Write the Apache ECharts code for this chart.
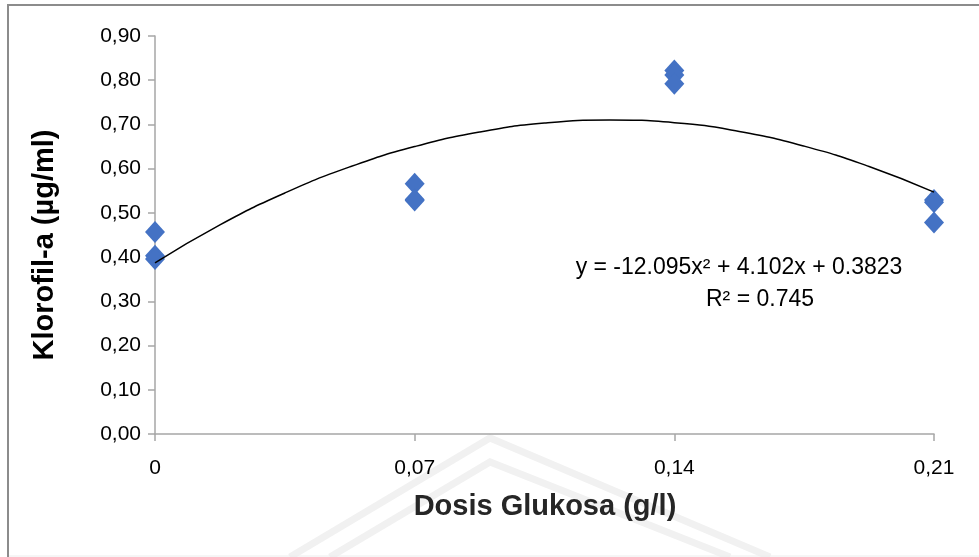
<!DOCTYPE html>
<html>
<head>
<meta charset="utf-8">
<script src="https://cdn.jsdelivr.net/npm/echarts@6/dist/echarts.min.js"></script>
<style>
html,body{margin:0;padding:0;background:#fff;}
#chart{width:979px;height:557px;}
</style>
</head>
<body>
<div id="chart"></div>
<script>
const doseX = [0, 0, 0, 0.07, 0.07, 0.07, 0.14, 0.14, 0.14, 0.21, 0.21, 0.21];
const klorofilY = [0.457, 0.403, 0.396, 0.566, 0.530, 0.528, 0.822, 0.812, 0.792, 0.529, 0.524, 0.478];
// Trend curve as drawn in the picture
const trendX = [0, 0.0175, 0.035, 0.0525, 0.07, 0.0875, 0.105, 0.1225, 0.14, 0.1575, 0.175, 0.1925, 0.21];
const trendY = [0.387, 0.473, 0.545, 0.604, 0.650, 0.683, 0.703, 0.710, 0.704, 0.684, 0.651, 0.605, 0.547];
const equationText = ['y = -12.095x² + 4.102x + 0.3823', 'R² = 0.745'];
const xTicks = [0, 0.07, 0.14, 0.21];
const xTickLabels = ['0', '0,07', '0,14', '0,21'];
const xTitle = 'Dosis Glukosa (g/l)';
const yTitle = 'Klorofil-a (µg/ml)';

const pts = doseX.map((x, i) => [x, klorofilY[i]]);
const trend = trendX.map((x, i) => [x, trendY[i]]);

const chart = echarts.init(document.getElementById('chart'));
const axisGray = '#a6a6a6';
const labelFont = "'Liberation Sans',Arial,sans-serif";
const titleFont = "bold 29px 'Liberation Sans',Arial,sans-serif";
chart.setOption({
  animation: false,
  backgroundColor: '#fff',
  grid: { left: 155, right: 45, top: 36, bottom: 123 },
  xAxis: {
    type: 'value', min: 0, max: 0.21, interval: 0.07,
    splitLine: { show: false },
    axisLine: { lineStyle: { color: axisGray, width: 1.5 } },
    axisTick: { show: true, length: 7, lineStyle: { color: axisGray, width: 1.5 } },
    axisLabel: {
      margin: 24, color: '#000', fontSize: 21, fontFamily: labelFont,
      formatter: v => { const k = xTicks.findIndex(t => Math.abs(t - v) < 1e-6); return k >= 0 ? xTickLabels[k] : ''; }
    }
  },
  yAxis: {
    type: 'value', min: 0, max: 0.9, interval: 0.1,
    splitLine: { show: false },
    axisLine: { show: true, lineStyle: { color: axisGray, width: 1.5 } },
    axisTick: { show: true, length: 7, lineStyle: { color: axisGray, width: 1.5 } },
    axisLabel: {
      margin: 14, color: '#000', fontSize: 21, fontFamily: labelFont,
      formatter: v => v.toFixed(2).replace('.', ',')
    }
  },
  series: [
    {
      type: 'line', data: trend, showSymbol: false, smooth: true,
      lineStyle: { color: '#000', width: 1.5 }, z: 3, silent: true
    },
    {
      type: 'scatter', data: pts, symbol: 'diamond', symbolSize: [20, 22],
      itemStyle: { color: '#4472C4', opacity: 1 }, z: 2
    }
  ],
  graphic: [
    { type: 'polyline', shape: { points: [[290, 557], [490, 438], [770, 557]] }, style: { fill: 'none', stroke: '#f1f1f1', lineWidth: 7 }, z: -20, silent: true },
    { type: 'polyline', shape: { points: [[330, 557], [490, 462], [730, 557]] }, style: { fill: 'none', stroke: '#f1f1f1', lineWidth: 7 }, z: -20, silent: true },
    { type: 'line', shape: { x1: 8, y1: 5, x2: 8, y2: 557 }, style: { stroke: '#8c8c8c', lineWidth: 2 }, z: -10, silent: true },
    { type: 'line', shape: { x1: 7, y1: 5, x2: 979, y2: 5 }, style: { stroke: '#8c8c8c', lineWidth: 2 }, z: -10, silent: true },
    { type: 'line', shape: { x1: 9, y1: 556, x2: 979, y2: 556 }, style: { stroke: '#ececec', lineWidth: 1 }, z: -10, silent: true },
    { type: 'text', x: 545, y: 507, style: { text: xTitle, font: titleFont, fill: '#262626', align: 'center', verticalAlign: 'middle' } },
    { type: 'text', x: 45, y: 245, rotation: Math.PI / 2, style: { text: yTitle, font: titleFont, fill: '#000', align: 'center', verticalAlign: 'middle' } },
    { type: 'text', x: 739, y: 268, style: { text: equationText[0], font: "23px " + labelFont, fill: '#000', align: 'center', verticalAlign: 'middle' } },
    { type: 'text', x: 760, y: 300, style: { text: equationText[1], font: "23px " + labelFont, fill: '#000', align: 'center', verticalAlign: 'middle' } }
  ]
});
</script>
</body>
</html>
